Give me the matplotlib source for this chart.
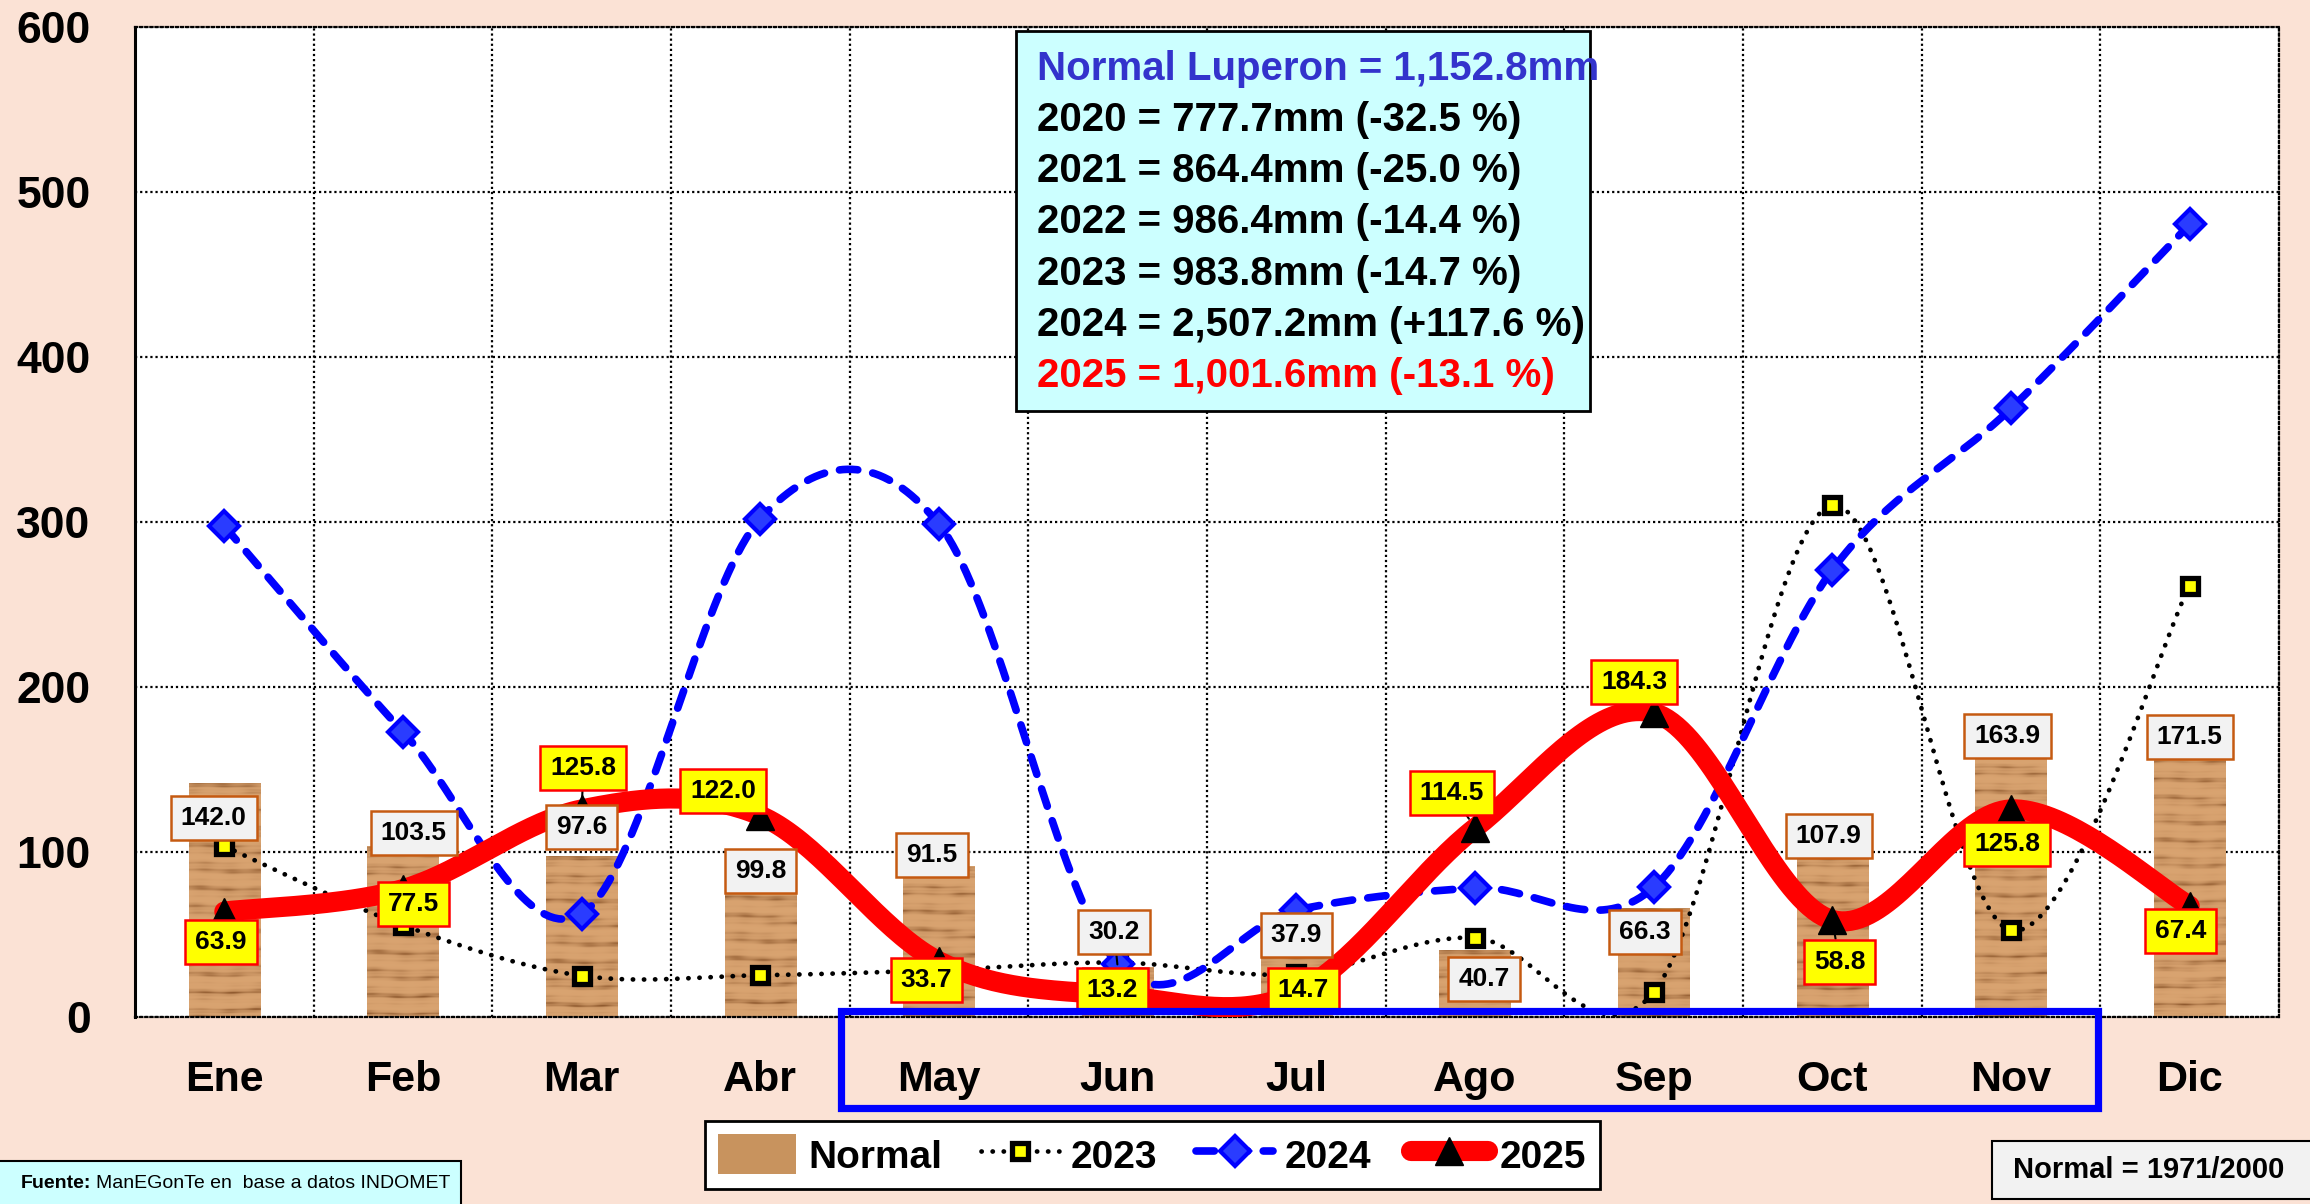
import matplotlib
matplotlib.use("Agg")
import matplotlib.pyplot as plt
import numpy as np
from matplotlib.patches import Rectangle, Patch
from matplotlib.lines import Line2D

plt.rcParams['font.family'] = ['Liberation Sans', 'DejaVu Sans']

# Monthly rainfall, Luperon (mm)
months = ['Ene', 'Feb', 'Mar', 'Abr', 'May', 'Jun', 'Jul', 'Ago', 'Sep', 'Oct', 'Nov', 'Dic']
normal = [142.0, 103.5, 97.6, 99.8, 91.5, 30.2, 37.9, 40.7, 66.3, 107.9, 163.9, 171.5]
rain_2023 = [103.5, 55.6, 25.0, 25.3, 28.4, 33.0, 26.0, 48.0, 15.0, 310.0, 52.5, 261.5]
rain_2024 = [297.5, 172.8, 62.5, 302.0, 298.6, 32.0, 64.8, 78.2, 78.6, 271.0, 368.8, 480.4]
rain_2025 = [63.9, 77.5, 125.8, 122.0, 33.7, 13.2, 14.7, 114.5, 184.3, 58.8, 125.8, 67.4]

summary = [
    ('Normal Luperon = 1,152.8mm', '#3333cc'),
    ('2020 = 777.7mm (-32.5 %)', 'black'),
    ('2021 = 864.4mm (-25.0 %)', 'black'),
    ('2022 = 986.4mm (-14.4 %)', 'black'),
    ('2023 = 983.8mm (-14.7 %)', 'black'),
    ('2024 = 2,507.2mm (+117.6 %)', 'black'),
    ('2025 = 1,001.6mm (-13.1 %)', '#ff0000'),
]

# label placement (x shift in months, y position in mm)
normal_lbl_dx = [-0.06, 0.06, 0, 0, -0.04, -0.02, 0, 0.05, -0.05, -0.02, -0.02, 0]
normal_lbl_y = [120.7, 111.8, 115, 88.7, 98.2, 51.7, 49.7, 23, 51.7, 109.6, 170.4, 169.9]
r25_lbl_dx = [-0.02, 0.06, 0.01, -0.21, -0.07, -0.03, 0.04, -0.13, -0.11, 0.04, -0.02, -0.05]
r25_lbl_y = [45.2, 68.2, 151, 137, 22.4, 16.4, 16.4, 136, 203, 33.5, 105, 52]

W, H = 2310, 1204
BG = '#fbe2d5'


def smooth(xs, ys, n=40):
    # cubic Bezier through the points, tangents from neighbours (Excel-like smoothing)
    px = np.concatenate([[xs[0]], xs, [xs[-1]]]).astype(float)
    py = np.concatenate([[ys[0]], ys, [ys[-1]]]).astype(float)
    ox, oy = [], []
    t = np.linspace(0, 1, n)
    for i in range(1, len(px) - 2):
        p0 = np.array([px[i], py[i]])
        p3 = np.array([px[i + 1], py[i + 1]])
        p1 = p0 + (np.array([px[i + 1], py[i + 1]]) - np.array([px[i - 1], py[i - 1]])) / 6
        p2 = p3 - (np.array([px[i + 2], py[i + 2]]) - np.array([px[i], py[i]])) / 6
        b = ((1 - t) ** 3)[:, None] * p0 + (3 * (1 - t) ** 2 * t)[:, None] * p1 \
            + (3 * (1 - t) * t ** 2)[:, None] * p2 + (t ** 3)[:, None] * p3
        ox.extend(b[:, 0])
        oy.extend(b[:, 1])
    return np.array(ox), np.array(oy)


def wood(rows, cols=72):
    # light oak with irregular horizontal darker grain
    yy, xx = np.mgrid[0:rows, 0:cols]
    g = np.sin(yy * 0.31 + 0.8 * np.sin(xx * 0.05 + yy * 0.017)) \
        + 0.7 * np.sin(yy * 0.73 + 0.5 * np.sin(xx * 0.09 + 1.0)) \
        + 0.35 * np.sin(yy * 1.9 + 0.4 * np.sin(xx * 0.13)) \
        + 0.25 * np.sin(xx * 0.23 + yy * 0.05)
    g = (g - g.min()) / (np.ptp(g) + 1e-9)
    light = np.array([0.85, 0.64, 0.44])
    dark = np.array([0.56, 0.35, 0.18])
    k = np.clip(g ** 4, 0, 1)[..., None]
    return light * (1 - k) + dark * k


fig = plt.figure(figsize=(W / 100, H / 100), dpi=100)
fig.patch.set_facecolor(BG)
ax = fig.add_axes([135 / W, 1 - 1017 / H, (2279 - 135) / W, (1017 - 27) / H])
ax.set_facecolor('white')

x = np.arange(len(months))

# textured bars for the normal
bars = ax.bar(x, normal, width=0.40, color='#c8935e', zorder=2)
for b, v in zip(bars, normal):
    x0 = b.get_x()
    im = ax.imshow(wood(max(int(v * 1.65), 2)), extent=[x0, x0 + b.get_width(), 0, v],
                   aspect='auto', interpolation='bilinear', zorder=2.1)
    im.set_clip_path(b)

sx, sy = smooth(x, rain_2023)
ax.plot(sx, sy, color='black', lw=3.4, ls=(0, (0.05, 2.3)), dash_capstyle='round', zorder=3)
ax.plot(x, rain_2023, ls='none', marker='s', ms=12, mfc='#ffff00', mec='black', mew=3.8, zorder=3.1)

sx, sy = smooth(x, rain_2024)
ax.plot(sx, sy, color='#0000ff', lw=5.5, ls=(0, (2.4, 2.0)), dash_capstyle='round', zorder=4)
ax.plot(x, rain_2024, ls='none', marker='D', ms=15, mfc='#2a3cff', mec='#0000ff', mew=3, zorder=4.1)

sx, sy = smooth(x, rain_2025)
ax.plot(sx, sy, color='#ff0000', lw=14.5, solid_capstyle='round', zorder=5)
ax.plot(x, rain_2025, ls='none', marker='^', ms=20, color='black', zorder=5.1)

# data labels
for i, v in enumerate(normal):
    arrow = dict(arrowstyle='-', color='black', lw=1.5, shrinkA=0, shrinkB=2) if i == 5 else None
    ax.annotate(f'{v:.1f}', xy=(i, v), xytext=(i + normal_lbl_dx[i], normal_lbl_y[i]),
                ha='center', va='center', fontsize=19, fontweight='bold', zorder=7,
                arrowprops=arrow,
                bbox=dict(boxstyle='square,pad=0.38', fc='#f2f2f2', ec='#c55a11', lw=1.8))
for i, v in enumerate(rain_2025):
    arrow = dict(arrowstyle='-', color='black', lw=1.5, shrinkA=0, shrinkB=8) if i in (2, 7, 9) else None
    ax.annotate(f'{v:.1f}', xy=(i, v), xytext=(i + r25_lbl_dx[i], r25_lbl_y[i]),
                ha='center', va='center', fontsize=19, fontweight='bold', zorder=8,
                arrowprops=arrow,
                bbox=dict(boxstyle='square,pad=0.38', fc='#ffff00', ec='#ff0000', lw=1.8))

ax.set_xlim(-0.5, 11.5)
ax.set_ylim(0, 600)
ax.set_yticks(np.arange(0, 601, 100))
ax.set_xticks(x)
ax.set_xticklabels(months)
ax.set_xticks(np.arange(-0.5, 11.6, 1), minor=True)
ax.tick_params(axis='both', which='both', length=0)
ax.tick_params(axis='y', labelsize=32, pad=32)
ax.tick_params(axis='x', labelsize=31, pad=31)
for lab in ax.get_xticklabels() + ax.get_yticklabels():
    lab.set_fontweight('bold')
ax.grid(axis='y', which='major', color='black', lw=1.6, ls=(0, (1, 1.3)), zorder=1)
ax.grid(axis='x', which='minor', color='black', lw=1.6, ls=(0, (1, 1.3)), zorder=1)
ax.set_axisbelow(True)
for s in ['top', 'right', 'bottom']:
    ax.spines[s].set_linestyle((0, (1, 1.3)))
    ax.spines[s].set_linewidth(1.6)
ax.spines['left'].set_linewidth(2.2)

# summary box
fig.add_artist(Rectangle((1016 / W, 1 - 411 / H), (1590 - 1016) / W, (411 - 31) / H,
                         transform=fig.transFigure, fc='#ccffff', ec='black', lw=2, zorder=9))
baselines = [80, 131, 182, 233, 285, 336, 387]
for (txt, col), yb in zip(summary, baselines):
    fig.text(1037 / W, 1 - yb / H, txt, color=col, fontsize=29, fontweight='bold',
             va='baseline', ha='left', zorder=10)

# highlight of the rainy months
fig.add_artist(Rectangle((841 / W, 1 - 1108 / H), (2098 - 841) / W, (1108 - 1011) / H,
                         transform=fig.transFigure, fill=False, ec='#0000ff', lw=5.2, zorder=11))

# legend
handles = [
    Patch(facecolor='#c8935e', edgecolor='none'),
    Line2D([], [], color='black', lw=3.4, ls=(0, (0.05, 2.3)), dash_capstyle='round',
           marker='s', ms=12, mfc='#ffff00', mec='black', mew=3.8),
    Line2D([], [], color='#0000ff', lw=5.5, ls=(0, (2.4, 2.0)), dash_capstyle='round',
           marker='D', ms=15, mfc='#2a3cff', mec='#0000ff', mew=3),
    Line2D([], [], color='#ff0000', lw=14.5, solid_capstyle='round',
           marker='^', ms=20, mfc='black', mec='black'),
]
leg = fig.legend(handles, ['Normal', '2023', '2024', '2025'], ncol=4, loc='center',
                 bbox_to_anchor=((700 + 1605) / 2 / W, 1 - (1121 + 1189) / 2 / H),
                 prop={'size': 28, 'weight': 'bold'}, frameon=True, fancybox=False,
                 edgecolor='black', facecolor='white', framealpha=1,
                 handlelength=2.0, handleheight=1.2, handletextpad=0.3,
                 columnspacing=1.0, borderpad=0.35)
leg.get_frame().set_linewidth(2)

# source and period notes
fig.add_artist(Rectangle((-2 / W, 1 - 1206 / H), 463 / W, (1206 - 1161) / H,
                         transform=fig.transFigure, fc='#ccffff', ec='black', lw=1.5, zorder=0.5))
src_bold = fig.text(21 / W, 1 - 1183 / H, 'Fuente:', fontsize=14, fontweight='bold',
                    va='center', ha='left')
fig.canvas.draw()
end = src_bold.get_window_extent().x1
fig.text((end + 5) / W, 1 - 1183 / H, 'ManEGonTe en  base a datos INDOMET', fontsize=14,
         va='center', ha='left')
fig.add_artist(Rectangle((1992 / W, 1 - 1199 / H), (2330 - 1992) / W, (1199 - 1141) / H,
                         transform=fig.transFigure, fc='#f2f2f2', ec='black', lw=1.5, zorder=0.5))
fig.text(2013 / W, 1 - 1170 / H, 'Normal = 1971/2000', fontsize=21, fontweight='bold',
         va='center', ha='left')

fig.savefig('out.png', dpi=100, facecolor=BG)
